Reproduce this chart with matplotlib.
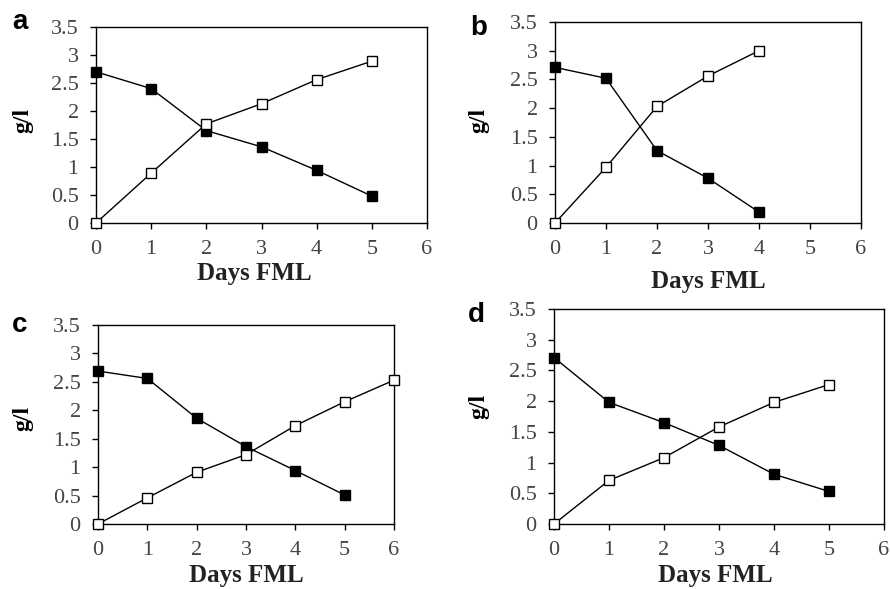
import matplotlib
matplotlib.use("Agg")
import matplotlib.pyplot as plt

# values (g/l vs days of FML)
days_a = [0, 1, 2, 3, 4, 5]
filled_a = [2.70, 2.40, 1.65, 1.36, 0.94, 0.48]
open_a = [0.0, 0.89, 1.77, 2.13, 2.56, 2.89]

days_b = [0, 1, 2, 3, 4]
filled_b = [2.71, 2.52, 1.26, 0.78, 0.19]
open_b = [0.0, 0.97, 2.03, 2.56, 3.0]

days_c_filled = [0, 1, 2, 3, 4, 5]
filled_c = [2.69, 2.56, 1.86, 1.36, 0.94, 0.51]
days_c_open = [0, 1, 2, 3, 4, 5, 6]
open_c = [0.0, 0.46, 0.91, 1.22, 1.73, 2.15, 2.53]

days_d = [0, 1, 2, 3, 4, 5]
filled_d = [2.71, 1.98, 1.65, 1.28, 0.81, 0.53]
open_d = [0.0, 0.71, 1.08, 1.58, 1.98, 2.27]

x_ticks = [0, 1, 2, 3, 4, 5, 6]
y_ticks = [0, 0.5, 1, 1.5, 2, 2.5, 3, 3.5]
y_tick_labels = ["0", "0.5", "1", "1.5", "2", "2.5", "3", "3.5"]

SERIF = "Liberation Serif"
SANS = "Liberation Sans"

fig = plt.figure(figsize=(8.9, 5.89), dpi=100)

W, H = 890.0, 589.0


def px_axes(left, top, right, bottom):
    """Add an axes given its pixel box in the 890x589 image."""
    return fig.add_axes([left / W, 1 - bottom / H, (right - left) / W, (bottom - top) / H])


panels = [
    # letter, axes box, letter pos, ylabel pos, xlabel pos (baseline), data
    ("a", (96, 27, 427, 223), (12, 29), (23, 120), (254, 280),
     (days_a, filled_a), (days_a, open_a)),
    ("b", (555, 22, 861, 223), (470, 35), (479, 120), (708, 288),
     (days_b, filled_b), (days_b, open_b)),
    ("c", (98, 325, 394, 524), (12, 332), (23, 418), (246, 582),
     (days_c_filled, filled_c), (days_c_open, open_c)),
    ("d", (554, 309, 884, 524), (468, 322), (479, 406), (715, 582),
     (days_d, filled_d), (days_d, open_d)),
]

for letter, box, lpos, ypos, xpos, fdata, odata in panels:
    ax = px_axes(*box)
    ax.plot(*fdata, color="black", lw=1.0, marker="s", ms=7.5,
            mfc="black", mec="black", mew=1.0, zorder=3, clip_on=False)
    ax.plot(*odata, color="black", lw=1.0, marker="s", ms=7.5,
            mfc="white", mec="black", mew=1.0, zorder=4, clip_on=False)
    ax.set_xlim(0, 6)
    ax.set_ylim(0, 3.5)
    ax.set_xticks(x_ticks)
    ax.set_yticks(y_ticks)
    ax.set_yticklabels(y_tick_labels)
    ax.tick_params(direction="out", length=4.5, width=1, labelsize=16)
    ax.tick_params(axis="y", pad=8)
    ax.tick_params(axis="x", pad=8)
    for lab in ax.get_xticklabels() + ax.get_yticklabels():
        lab.set_fontfamily(SERIF)
        lab.set_color("#444444")
    for sp in ax.spines.values():
        sp.set_linewidth(1.0)

    fig.text(lpos[0] / W, 1 - lpos[1] / H, letter, fontsize=20, fontweight="bold",
             family=SANS, ha="left", va="baseline")
    fig.text(ypos[0] / W, 1 - ypos[1] / H, "g/l", fontsize=17, fontweight="bold",
             family=SERIF, rotation=90, ha="center", va="center")
    fig.text(xpos[0] / W, 1 - xpos[1] / H, "Days FML", fontsize=18, fontweight="bold",
             family=SERIF, ha="center", va="baseline", color="#222222")

fig.savefig("out.png", dpi=100)
